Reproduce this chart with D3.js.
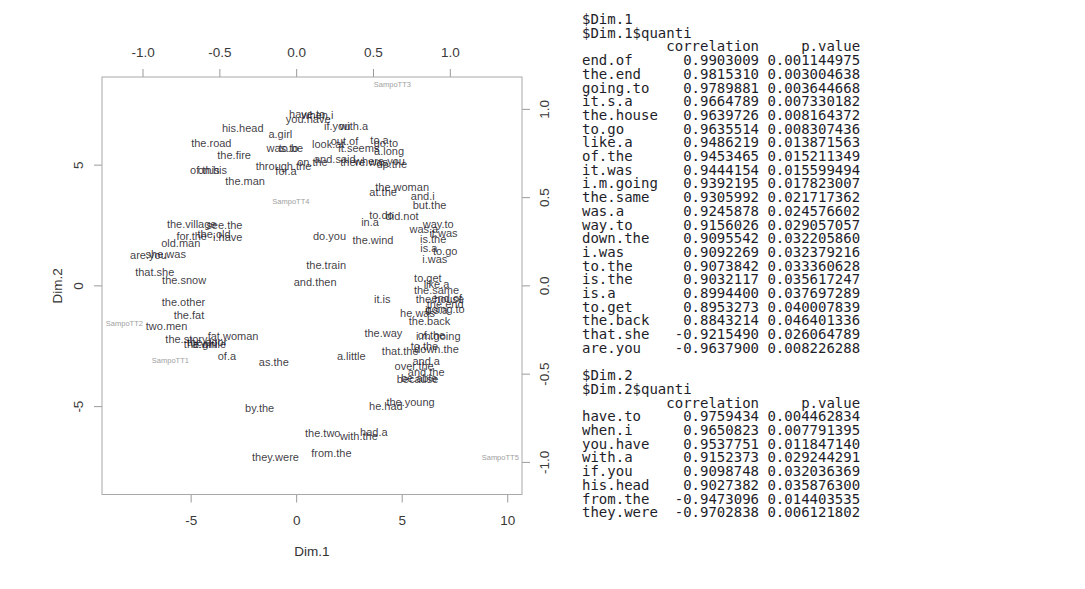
<!DOCTYPE html>
<html>
<head>
<meta charset="utf-8">
<script src="https://cdn.jsdelivr.net/npm/d3@7"></script>
<style>
  body { margin: 0; background: #fff; }
  .tbl text { font-family: "DejaVu Sans Mono", monospace; font-size: 14px; fill: #1e1e2a; }
</style>
</head>
<body>
<svg id="chart" width="1085" height="589"></svg>
<script>
// word labels (individuals) on Dim.1 / Dim.2
const wordNames = [
  "have.to", "you.have", "when.i", "if.you", "with.a", "his.head", "a.girl", "the.road",
  "was.to", "to.be", "look.at", "out.of", "it.seems", "to.a", "go.to", "a.long",
  "the.fire", "through.the", "for.a", "on.the", "and.said", "there.was", "up.the", "where.you",
  "of.this", "on.his", "the.man", "the.woman", "at.the", "and.i", "but.the", "to.do",
  "did.not", "in.a", "way.to", "was.a", "it.was", "is.the", "is.a", "to.go",
  "i.was", "do.you", "the.wind", "the.village", "see.the", "for.the", "the.old", "i.have",
  "old.man", "are.you", "she.was", "that.she", "the.snow", "the.train", "and.then", "the.other",
  "the.fat", "two.men", "fat.woman", "the.story", "the.girl", "a.while", "the.door", "of.a",
  "as.the", "a.little", "it.is", "the.way", "that.the", "down.the", "to.the", "i.m.going",
  "of.the", "to.get", "like.a", "the.same", "the.house", "end.of", "the.end", "going.to",
  "it.s.a", "he.was", "the.back", "and.a", "over.the", "and.the", "because", "be.able",
  "the.young", "he.had", "by.the", "the.two", "with.the", "had.a", "they.were", "from.the"
];
const wordDim1 = [
  0.52, 0.57, 1.01, 1.94, 2.73, -2.53, -0.75, -4.02,
  -0.65, -0.25, 1.52, 2.29, 2.97, 3.95, 4.25, 4.40,
  -2.94, -0.60, -0.48, 0.77, 1.83, 3.22, 4.53, 3.95,
  -4.33, -3.97, -2.42, 5.02, 4.12, 6.00, 6.32, 4.04,
  5.02, 3.50, 6.73, 6.05, 6.98, 6.49, 6.29, 7.06,
  6.57, 1.58, 3.64, -4.95, -3.40, -4.95, -3.89, -3.24,
  -5.47, -7.00, -6.18, -6.70, -5.31, 1.42, 0.90, -5.34,
  -5.08, -6.14, -2.99, -5.20, -4.54, -4.13, -4.22, -3.28,
  -1.06, 2.61, 4.08, 4.13, 4.93, 6.65, 6.08, 6.73,
  6.41, 6.24, 6.65, 6.65, 6.81, 7.14, 7.06, 7.06,
  6.65, 5.75, 6.32, 6.16, 5.59, 6.16, 5.75, 5.82,
  5.42, 4.25, -1.73, 1.26, 2.97, 3.68, -0.98, 1.67
];
const wordDim2 = [
  7.11, 6.90, 7.06, 6.61, 6.61, 6.53, 6.26, 5.90,
  5.70, 5.70, 5.87, 5.99, 5.69, 6.01, 5.90, 5.56,
  5.41, 4.94, 4.73, 5.11, 5.23, 5.11, 5.03, 5.16,
  4.77, 4.77, 4.34, 4.09, 3.87, 3.69, 3.34, 2.91,
  2.87, 2.61, 2.54, 2.34, 2.19, 1.94, 1.56, 1.41,
  1.11, 2.04, 1.87, 2.53, 2.51, 2.04, 2.11, 2.01,
  1.77, 1.24, 1.29, 0.54, 0.23, 0.86, 0.16, -0.70,
  -1.23, -1.67, -2.09, -2.21, -2.41, -2.41, -2.34, -2.91,
  -3.17, -2.91, -0.56, -1.99, -2.73, -2.63, -2.53, -2.10,
  -2.04, 0.30, 0.04, -0.20, -0.56, -0.53, -0.77, -0.96,
  -1.01, -1.16, -1.46, -3.13, -3.34, -3.60, -3.87, -3.84,
  -4.81, -4.99, -5.09, -6.13, -6.24, -6.06, -7.09, -6.96
];

// texts (variables), drawn in light grey
const textNames = ["SampoTT1", "SampoTT2", "SampoTT3", "SampoTT4", "SampoTT5"];
const textDim1 = [-5.96, -8.14, 4.56, -0.25, 9.67];
const textDim2 = [-3.13, -1.59, 8.30, 3.49, -7.13];

const dim1Ticks = [-5, 0, 5, 10];
const dim2Ticks = [-5, 0, 5];
const loadTicks = [-1, -0.5, 0, 0.5, 1];

// dimdesc output
const dim1Rows = ["end.of", "the.end", "going.to", "it.s.a", "the.house", "to.go", "like.a", "of.the",
  "it.was", "i.m.going", "the.same", "was.a", "way.to", "down.the", "i.was", "to.the",
  "is.the", "is.a", "to.get", "the.back", "that.she", "are.you"];
const dim1Corr = [0.9903009, 0.9815310, 0.9789881, 0.9664789, 0.9639726, 0.9635514, 0.9486219, 0.9453465,
  0.9444154, 0.9392195, 0.9305992, 0.9245878, 0.9156026, 0.9095542, 0.9092269, 0.9073842,
  0.9032117, 0.8994400, 0.8953273, 0.8843214, -0.9215490, -0.9637900];
const dim1P = [0.001144975, 0.003004638, 0.003644668, 0.007330182, 0.008164372, 0.008307436, 0.013871563, 0.015211349,
  0.015599494, 0.017823007, 0.021717362, 0.024576602, 0.029057057, 0.032205860, 0.032379216, 0.033360628,
  0.035617247, 0.037697289, 0.040007839, 0.046401336, 0.026064789, 0.008226288];
const dim2Rows = ["have.to", "when.i", "you.have", "with.a", "if.you", "his.head", "from.the", "they.were"];
const dim2Corr = [0.9759434, 0.9650823, 0.9537751, 0.9152373, 0.9098748, 0.9027382, -0.9473096, -0.9702838];
const dim2P = [0.004462834, 0.007791395, 0.011847140, 0.029244291, 0.032036369, 0.035876300, 0.014403535, 0.006121802];

const svg = d3.select("#chart");
svg.append("rect").attr("width", 1085).attr("height", 589).attr("fill", "#fff");

const plot = {left: 102, right: 522, top: 77, bottom: 494.5};
const x = d3.scaleLinear().domain([-9.2, 10.7]).range([plot.left, plot.right]);
const y = d3.scaleLinear().domain([-8.66, 8.63]).range([plot.bottom, plot.top]);
// secondary (loading) axes
const kx = 7.28, ky = 7.31;
const xTop = d3.scaleLinear().domain(x.domain().map(d => d / kx)).range(x.range());
const yRight = d3.scaleLinear().domain(y.domain().map(d => d / ky)).range(y.range());

const axisFont = "Liberation Sans, Arial, sans-serif";
function styleAxis(g) {
  g.select(".domain").remove();
  g.selectAll(".tick line").attr("stroke", "#9a9a9a");
  g.selectAll(".tick text").attr("fill", "#3a3a3a").attr("font-size", 13.5).attr("font-family", axisFont);
}
const fmt1 = d => d.toFixed(1);

svg.append("g")
  .attr("transform", `translate(0,${plot.bottom})`)
  .call(d3.axisBottom(x).tickValues(dim1Ticks).tickSize(8).tickPadding(13).tickFormat(d => String(d)))
  .call(styleAxis);

svg.append("g")
  .attr("transform", `translate(0,${plot.top})`)
  .call(d3.axisTop(xTop).tickValues(loadTicks).tickSize(8).tickPadding(12).tickFormat(fmt1))
  .call(styleAxis);

svg.append("g")
  .attr("transform", `translate(${plot.left},0)`)
  .call(d3.axisLeft(y).tickValues(dim2Ticks).tickSize(8).tickFormat(d => String(d)))
  .call(styleAxis)
  .call(g => g.selectAll(".tick text")
    .attr("x", null).attr("dy", null)
    .attr("text-anchor", "middle").attr("dominant-baseline", "central")
    .attr("transform", "translate(-24,0) rotate(-90)"));

svg.append("g")
  .attr("transform", `translate(${plot.right},0)`)
  .call(d3.axisRight(yRight).tickValues(loadTicks).tickSize(8).tickFormat(fmt1))
  .call(styleAxis)
  .call(g => g.selectAll(".tick text")
    .attr("x", null).attr("dy", null)
    .attr("text-anchor", "middle").attr("dominant-baseline", "central")
    .attr("transform", "translate(22,0) rotate(-90)"));

// box
svg.append("rect")
  .attr("x", plot.left).attr("y", plot.top)
  .attr("width", plot.right - plot.left).attr("height", plot.bottom - plot.top)
  .attr("fill", "none").attr("stroke", "#a8a8a8").attr("stroke-width", 1);

// axis titles
svg.append("text").attr("x", (plot.left + plot.right) / 2).attr("y", 551)
  .attr("text-anchor", "middle").attr("dominant-baseline", "central")
  .attr("font-family", axisFont).attr("font-size", 13.5).attr("fill", "#333").text("Dim.1");
svg.append("text")
  .attr("transform", `translate(57,${(plot.top + plot.bottom) / 2}) rotate(-90)`)
  .attr("text-anchor", "middle").attr("dominant-baseline", "central")
  .attr("font-family", axisFont).attr("font-size", 13.5).attr("fill", "#333").text("Dim.2");

// texts as light grey labels
svg.append("g").selectAll("text")
  .data(textNames)
  .join("text")
    .attr("x", (d, i) => x(textDim1[i]))
    .attr("y", (d, i) => y(textDim2[i]))
    .attr("text-anchor", "middle").attr("dominant-baseline", "central")
    .attr("font-family", axisFont).attr("font-size", 7.5).attr("fill", "#a0a0a0")
    .text(d => d);

// word labels
svg.append("g").selectAll("text")
  .data(wordNames)
  .join("text")
    .attr("x", (d, i) => x(wordDim1[i]))
    .attr("y", (d, i) => y(wordDim2[i]))
    .attr("text-anchor", "middle").attr("dominant-baseline", "central")
    .attr("font-family", axisFont).attr("font-size", 11)
    .attr("fill", "#1e1a28").attr("fill-opacity", 0.88)
    .text(d => d);

// console output on the right (spaces kept as no-break spaces so columns line up)
const row = (n, c, p) => n.padEnd(9) + " " + c.toFixed(7).padStart(11) + " " + p.toFixed(9).padStart(11);
const header = " ".repeat(10) + "correlation" + " " + "p.value".padStart(11);
const lines = ["$Dim.1", "$Dim.1$quanti", header]
  .concat(dim1Rows.map((n, i) => row(n, dim1Corr[i], dim1P[i])))
  .concat(["", "$Dim.2", "$Dim.2$quanti", header])
  .concat(dim2Rows.map((n, i) => row(n, dim2Corr[i], dim2P[i])));

svg.append("g").attr("class", "tbl")
  .selectAll("text")
  .data(lines)
  .join("text")
    .attr("x", 582)
    .attr("y", (d, i) => 24 + i * 13.7)
    .text(d => d.replace(/ /g, "\u00A0"));
</script>
</body>
</html>
